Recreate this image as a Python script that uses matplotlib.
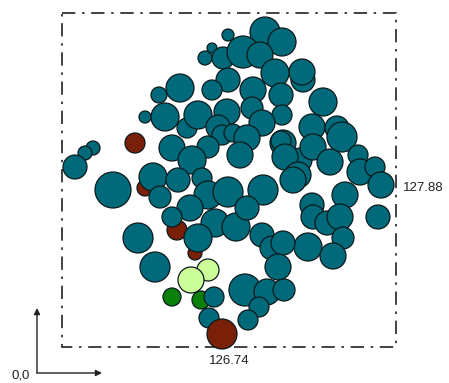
import matplotlib.pyplot as plt
from matplotlib.patches import Circle, Rectangle

# circle centres / radii (plot units, y grows downward) and class of each circle
cx = [145, 177, 195, 135,
      265, 282, 228, 212, 205, 223, 243, 260, 303, 302, 275, 228, 212, 253,
      281, 323, 159, 180, 145, 187, 165, 198, 227, 218, 282, 252, 262, 312,
      337, 342, 222, 233, 208, 172, 247, 300, 283, 281, 240, 285, 313, 298,
      330, 358, 360, 375, 381, 345, 378, 93, 85, 75, 113, 153, 160, 192, 178,
      202, 208, 228, 263, 293, 312, 313, 327, 340, 343, 308, 333, 190, 172,
      215, 236, 247, 138, 198, 262, 272, 283, 278, 155,
      208, 191, 172, 201,
      214, 245, 267, 284, 259, 209, 248,
      222]
cy = [188, 230, 253, 143,
      32, 42, 35, 48, 58, 58, 52, 55, 80, 72, 73, 80, 90, 90,
      95, 102, 95, 88, 117, 128, 117, 115, 112, 127, 115, 108, 123, 127,
      128, 137, 135, 133, 147, 148, 138, 160, 143, 141, 155, 157, 147, 175,
      162, 155, 172, 167, 185, 195, 217, 148, 153, 167, 190, 177, 197, 160,
      180, 178, 195, 192, 190, 180, 205, 217, 223, 217, 238, 247, 256, 208,
      217, 223, 227, 208, 238, 238, 235, 248, 243, 267, 267,
      270, 280, 297, 300,
      297, 290, 292, 290, 307, 318, 320,
      334]
cr = [8, 10, 7, 10,
      15, 14, 6, 5, 7, 11, 16, 13, 12, 13, 14, 12, 10, 13,
      12, 14, 8, 14, 6, 10, 14, 14, 13, 12, 10, 11, 13, 13,
      12, 15, 10, 9, 11, 13, 13, 12, 13, 10, 13, 13, 13, 13,
      13, 10, 13, 10, 13, 13, 12, 7, 7, 12, 18, 14, 11, 14, 12,
      10, 14, 15, 15, 13, 12, 12, 12, 13, 11, 14, 13, 13, 10,
      14, 14, 12, 15, 14, 12, 12, 12, 13, 15,
      11, 13, 9, 9,
      10, 16, 13, 11, 10, 10, 10,
      15]
kind = (['brown'] * 4 + ['teal'] * 81 + ['light', 'light', 'green', 'green']
        + ['teal'] * 7 + ['brown'])

colors = {'teal': '#006a7a', 'brown': '#7a1f08',
          'light': '#ccff99', 'green': '#0a800a'}

fig = plt.figure(figsize=(4.49, 3.83), dpi=100)
ax = fig.add_axes([0, 0, 1, 1])
ax.set_xlim(0, 449)
ax.set_ylim(383, 0)
ax.axis('off')

# dash-dot frame
ax.add_patch(Rectangle((62, 13), 334, 334, fill=False, ec='#222222', lw=1.2,
                       ls=(0, (8, 4, 1.5, 4))))

for x, y, r, k in zip(cx, cy, cr, kind):
    ax.add_patch(Circle((x, y), r, fc=colors[k], ec='#0b1a1c', lw=0.9))

ax.text(403, 188, '127.88', fontsize=9.5, family='Liberation Sans',
        va='center', ha='left', color='#222222')
ax.text(229, 361, '126.74', fontsize=9.5, family='Liberation Sans',
        va='center', ha='center', color='#222222')
ax.text(11, 375, '0,0', fontsize=9.5, family='Liberation Sans',
        va='center', ha='left', color='#222222')

# origin arrows
ax.annotate('', xy=(37, 308), xytext=(37, 373),
            arrowprops=dict(arrowstyle='-|>', color='#222222', lw=1.0,
                            mutation_scale=9, shrinkA=0, shrinkB=0))
ax.annotate('', xy=(102, 373), xytext=(37, 373),
            arrowprops=dict(arrowstyle='-|>', color='#222222', lw=1.0,
                            mutation_scale=9, shrinkA=0, shrinkB=0))

fig.savefig('out.png', dpi=100)
